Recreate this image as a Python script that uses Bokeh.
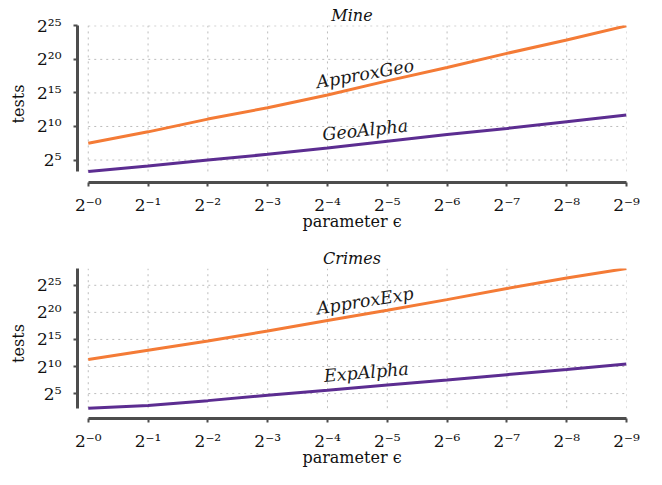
from bokeh.plotting import figure
from bokeh.layouts import column
from bokeh.models import Range1d, FixedTicker
from bokeh.core.properties import value
from bokeh.embed import file_html
from bokeh.resources import INLINE

# ---- data (log2 of number of tests) ----
eps_exponents = [0, 1, 2, 3, 4, 5, 6, 7, 8, 9]          # epsilon = 2^-k
x_tick_labels = ["2⁻⁰", "2⁻¹", "2⁻²", "2⁻³", "2⁻⁴", "2⁻⁵", "2⁻⁶", "2⁻⁷", "2⁻⁸", "2⁻⁹"]
y_tick_exponents = [5, 10, 15, 20, 25]
y_tick_labels = ["2⁵", "2¹⁰", "2¹⁵", "2²⁰", "2²⁵"]

mine_approxgeo = [7.5, 9.2, 11.1, 12.8, 14.7, 16.8, 18.8, 20.9, 22.9, 25.0]
mine_geoalpha = [3.3, 4.1, 5.0, 5.85, 6.8, 7.8, 8.8, 9.7, 10.7, 11.7]
crimes_approxexp = [11.3, 13.0, 14.7, 16.55, 18.5, 20.4, 22.35, 24.4, 26.35, 28.1]
crimes_expalpha = [2.3, 2.8, 3.7, 4.7, 5.6, 6.6, 7.5, 8.5, 9.45, 10.45]

ORANGE = "#F47B36"
PURPLE = "#5C2D91"
AXIS = "#4d4d4d"
GRID = "#bdbdbd"
FONT = "DejaVu Serif"


def panel(title, upper, lower, upper_name, lower_name, height, y_lo, y_hi,
          border_top, border_bottom, lab_pos_up, lab_pos_lo):
    xs = [2.0 ** -k for k in eps_exponents]
    p = figure(width=646, height=height, x_axis_type="log", y_axis_type="log",
               x_range=Range1d(2 ** 0.18, 2.0 ** -9),
               y_range=Range1d(2 ** y_lo, 2 ** y_hi),
               output_backend="svg", toolbar_location=None,
               min_border_left=77, min_border_right=20,
               min_border_top=border_top, min_border_bottom=border_bottom)
    p.outline_line_color = None
    p.title.text = title
    p.title.align = "center"
    p.title.text_font = FONT
    p.title.text_font_style = "italic"
    p.title.text_font_size = "16px"
    p.title.text_color = "#111111"
    p.title.standoff = 2
    p.title.offset = 9

    x_ticks = [2.0 ** -k for k in eps_exponents]
    y_ticks = [2.0 ** e for e in y_tick_exponents]
    p.xaxis.ticker = FixedTicker(ticks=x_ticks)
    p.yaxis.ticker = FixedTicker(ticks=y_ticks)
    p.xaxis.major_label_overrides = dict(zip(x_ticks, x_tick_labels))
    p.yaxis.major_label_overrides = dict(zip(y_ticks, y_tick_labels))
    y_bottom = 2 ** min(upper + lower)
    y_top = 2 ** y_hi
    p.xaxis.bounds = (x_ticks[0], x_ticks[-1])
    p.yaxis.bounds = (y_bottom, y_top)

    for ax in (p.xaxis[0], p.yaxis[0]):
        ax.axis_line_color = AXIS
        ax.axis_line_width = 3
        ax.major_tick_line_color = AXIS
        ax.major_tick_line_width = 2
        ax.major_tick_out = 4
        ax.major_tick_in = 0
        ax.minor_tick_line_color = None
        ax.major_label_text_font = FONT
        ax.major_label_text_font_size = "17px"
        ax.major_label_text_color = "#111111"
        ax.axis_label_text_font = FONT
        ax.axis_label_text_font_size = "16px"
        ax.axis_label_text_font_style = "normal"
        ax.axis_label_text_color = "#111111"
    p.xaxis.axis_label = "parameter ϵ"
    p.yaxis.axis_label = "tests"
    p.xaxis.major_label_standoff = 8
    p.xaxis.axis_label_standoff = -6
    p.yaxis.major_label_standoff = 12
    p.yaxis.axis_label_standoff = 6

    # dotted grid limited to the data box (as in the original)
    p.xgrid.visible = False
    p.ygrid.visible = False
    p.segment(x0=x_ticks, y0=[y_bottom] * len(x_ticks), x1=x_ticks, y1=[y_top] * len(x_ticks),
              line_color=GRID, line_width=1, line_dash="2 4")
    p.segment(x0=[x_ticks[0]] * len(y_ticks), y0=y_ticks, x1=[x_ticks[-1]] * len(y_ticks), y1=y_ticks,
              line_color=GRID, line_width=1, line_dash="2 4")

    p.line(xs, [2 ** v for v in upper], line_color=ORANGE, line_width=3)
    p.line(xs, [2 ** v for v in lower], line_color=PURPLE, line_width=3)

    for name, (k, e, ang) in ((upper_name, lab_pos_up), (lower_name, lab_pos_lo)):
        p.text(x=[2.0 ** -k], y=[2.0 ** e], text=[name], angle=ang, angle_units="deg",
               text_font=value(FONT), text_font_style="italic", text_font_size="17.5px",
               text_align="center", text_baseline="middle", text_color="#1a1a1a")
    return p


p1 = panel("Mine", mine_approxgeo, mine_geoalpha, "ApproxGeo", "GeoAlpha",
           233, 1.65, 25.05, 25, 51, (4.63, 17.84, 10), (4.63, 9.48, 6))
p2 = panel("Crimes", crimes_approxexp, crimes_expalpha, "ApproxExp", "ExpAlpha",
           236, 0.4, 28.1, 35, 47, (4.63, 22.13, 9), (4.65, 8.93, 5))

layout = column(p1, p2, spacing=0)
open("out.html", "w").write(file_html(layout, INLINE))
